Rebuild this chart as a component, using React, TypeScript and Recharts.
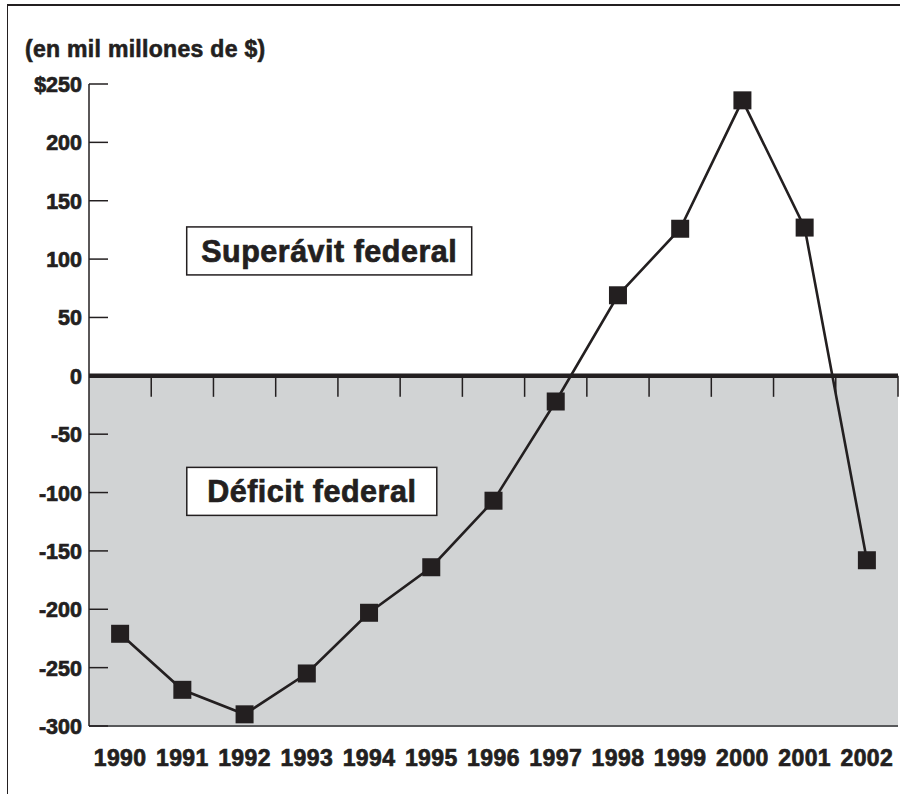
import React from "react";
import {
  LineChart,
  Line,
  XAxis,
  YAxis,
  ReferenceArea,
  ReferenceLine,
  ReferenceDot,
} from "recharts";

const years = [1990, 1991, 1992, 1993, 1994, 1995, 1996, 1997, 1998, 1999, 2000, 2001, 2002];
const balance = [-221, -269, -290, -255, -203, -164, -107, -22, 69, 126, 236, 127, -158];
const yTicks = [250, 200, 150, 100, 50, 0, -50, -100, -150, -200, -250, -300];
const yTickLabels = ["$250", "200", "150", "100", "50", "0", "-50", "-100", "-150", "-200", "-250", "-300"];
const unitLabel = "(en mil millones de $)";

// annotation boxes, anchored in data coordinates
const notes = [
  { text: "Superávit federal", year: 1993.36, value: 107, w: 285 },
  { text: "Déficit federal", year: 1993.08, value: -99, w: 250 },
];

const INK = "#231f20";
const FONT = "'Liberation Sans', Arial, Helvetica, sans-serif";

const data = years.map((y, i) => ({ year: y, value: balance[i] }));
// small tick marks hanging from the zero line, between years
const dividers = years.map((y) => y + 0.5);

// heavier look, closer to the original's black Helvetica
const heavy = { stroke: INK, strokeWidth: 0.7, paintOrder: "stroke" as const };

function SquareDot(props: any) {
  const { cx, cy, index } = props;
  if (cx == null || cy == null) return null;
  return <rect key={`dot-${index}`} x={cx - 9} y={cy - 9} width={18} height={18} fill={INK} />;
}

function YTick(props: any) {
  const { x, y, payload } = props;
  const i = yTicks.indexOf(payload.value);
  return (
    <g>
      <line x1={x + 7} x2={x + 26} y1={y} y2={y} stroke={INK} strokeWidth={1.5} />
      <text
        x={x}
        y={y}
        dy={8}
        textAnchor="end"
        fontFamily={FONT}
        fontWeight="bold"
        fontSize={21.5}
        fill={INK}
        {...heavy}
      >
        {i >= 0 ? yTickLabels[i] : payload.value}
      </text>
    </g>
  );
}

function XTick(props: any) {
  const { x, y, payload } = props;
  return (
    <text
      x={x}
      y={y}
      dy={32}
      textAnchor="middle"
      fontFamily={FONT}
      fontWeight="bold"
      fontSize={23}
      letterSpacing={0.4}
      fill={INK}
      {...heavy}
    >
      {payload.value}
    </text>
  );
}

function noteShape(text: string, w: number) {
  return (props: any) => {
    const { cx, cy } = props;
    return (
      <g>
        <rect x={cx - w / 2} y={cy - 24} width={w} height={48} fill="#fff" stroke={INK} strokeWidth={1.5} />
        <text
          x={cx}
          y={cy + 11}
          textAnchor="middle"
          fontFamily={FONT}
          fontWeight="bold"
          fontSize={30.5}
          letterSpacing={0.5}
          fill={INK}
          {...heavy}
        >
          {text}
        </text>
      </g>
    );
  };
}

export default function App() {
  return (
    <div style={{ position: "absolute", left: 0, top: 0, width: 900, height: 794, background: "#fff", overflow: "hidden" }}>
      <div
        style={{
          position: "absolute",
          left: 7,
          top: 4,
          width: 900,
          height: 800,
          borderTop: `2px solid ${INK}`,
          borderLeft: `1.5px solid ${INK}`,
        }}
      />
      <div
        style={{
          position: "absolute",
          left: 25,
          top: 35,
          fontFamily: FONT,
          fontWeight: "bold",
          fontSize: 23,
          letterSpacing: 0.3,
          color: INK,
          lineHeight: "28px",
          WebkitTextStroke: `0.6px ${INK}`,
        }}
      >
        {unitLabel}
      </div>
      <div style={{ position: "absolute", left: 0, top: 0 }}>
        <LineChart width={900} height={794} data={data} margin={{ top: 84, right: 2, bottom: 0, left: 0 }}>
          <ReferenceArea x1={1989.5} x2={2002.5} y1={-300} y2={0} fill="#d1d3d4" fillOpacity={1} stroke="none" />
          {dividers.map((d) => (
            <ReferenceLine
              key={d}
              segment={[
                { x: d, y: 0 },
                { x: d, y: -18 },
              ]}
              stroke={INK}
              strokeWidth={1.5}
            />
          ))}
          <ReferenceLine y={0} stroke={INK} strokeWidth={4.5} />
          <XAxis
            dataKey="year"
            type="number"
            domain={[1989.5, 2002.5]}
            ticks={years}
            interval={0}
            allowDataOverflow
            height={68}
            tickLine={false}
            tickSize={0}
            tickMargin={8}
            axisLine={{ stroke: "#58595b", strokeWidth: 2 }}
            tick={<XTick />}
          />
          <YAxis
            type="number"
            domain={[-300, 250]}
            ticks={yTicks}
            interval={0}
            width={89}
            tickLine={false}
            tickSize={0}
            tickMargin={7}
            axisLine={{ stroke: INK, strokeWidth: 1.5 }}
            tick={<YTick />}
          />
          <Line
            type="linear"
            dataKey="value"
            stroke={INK}
            strokeWidth={2.6}
            dot={<SquareDot />}
            activeDot={false}
            isAnimationActive={false}
          />
          {notes.map((n) => (
            <ReferenceDot key={n.text} x={n.year} y={n.value} r={0} shape={noteShape(n.text, n.w)} />
          ))}
        </LineChart>
      </div>
    </div>
  );
}
